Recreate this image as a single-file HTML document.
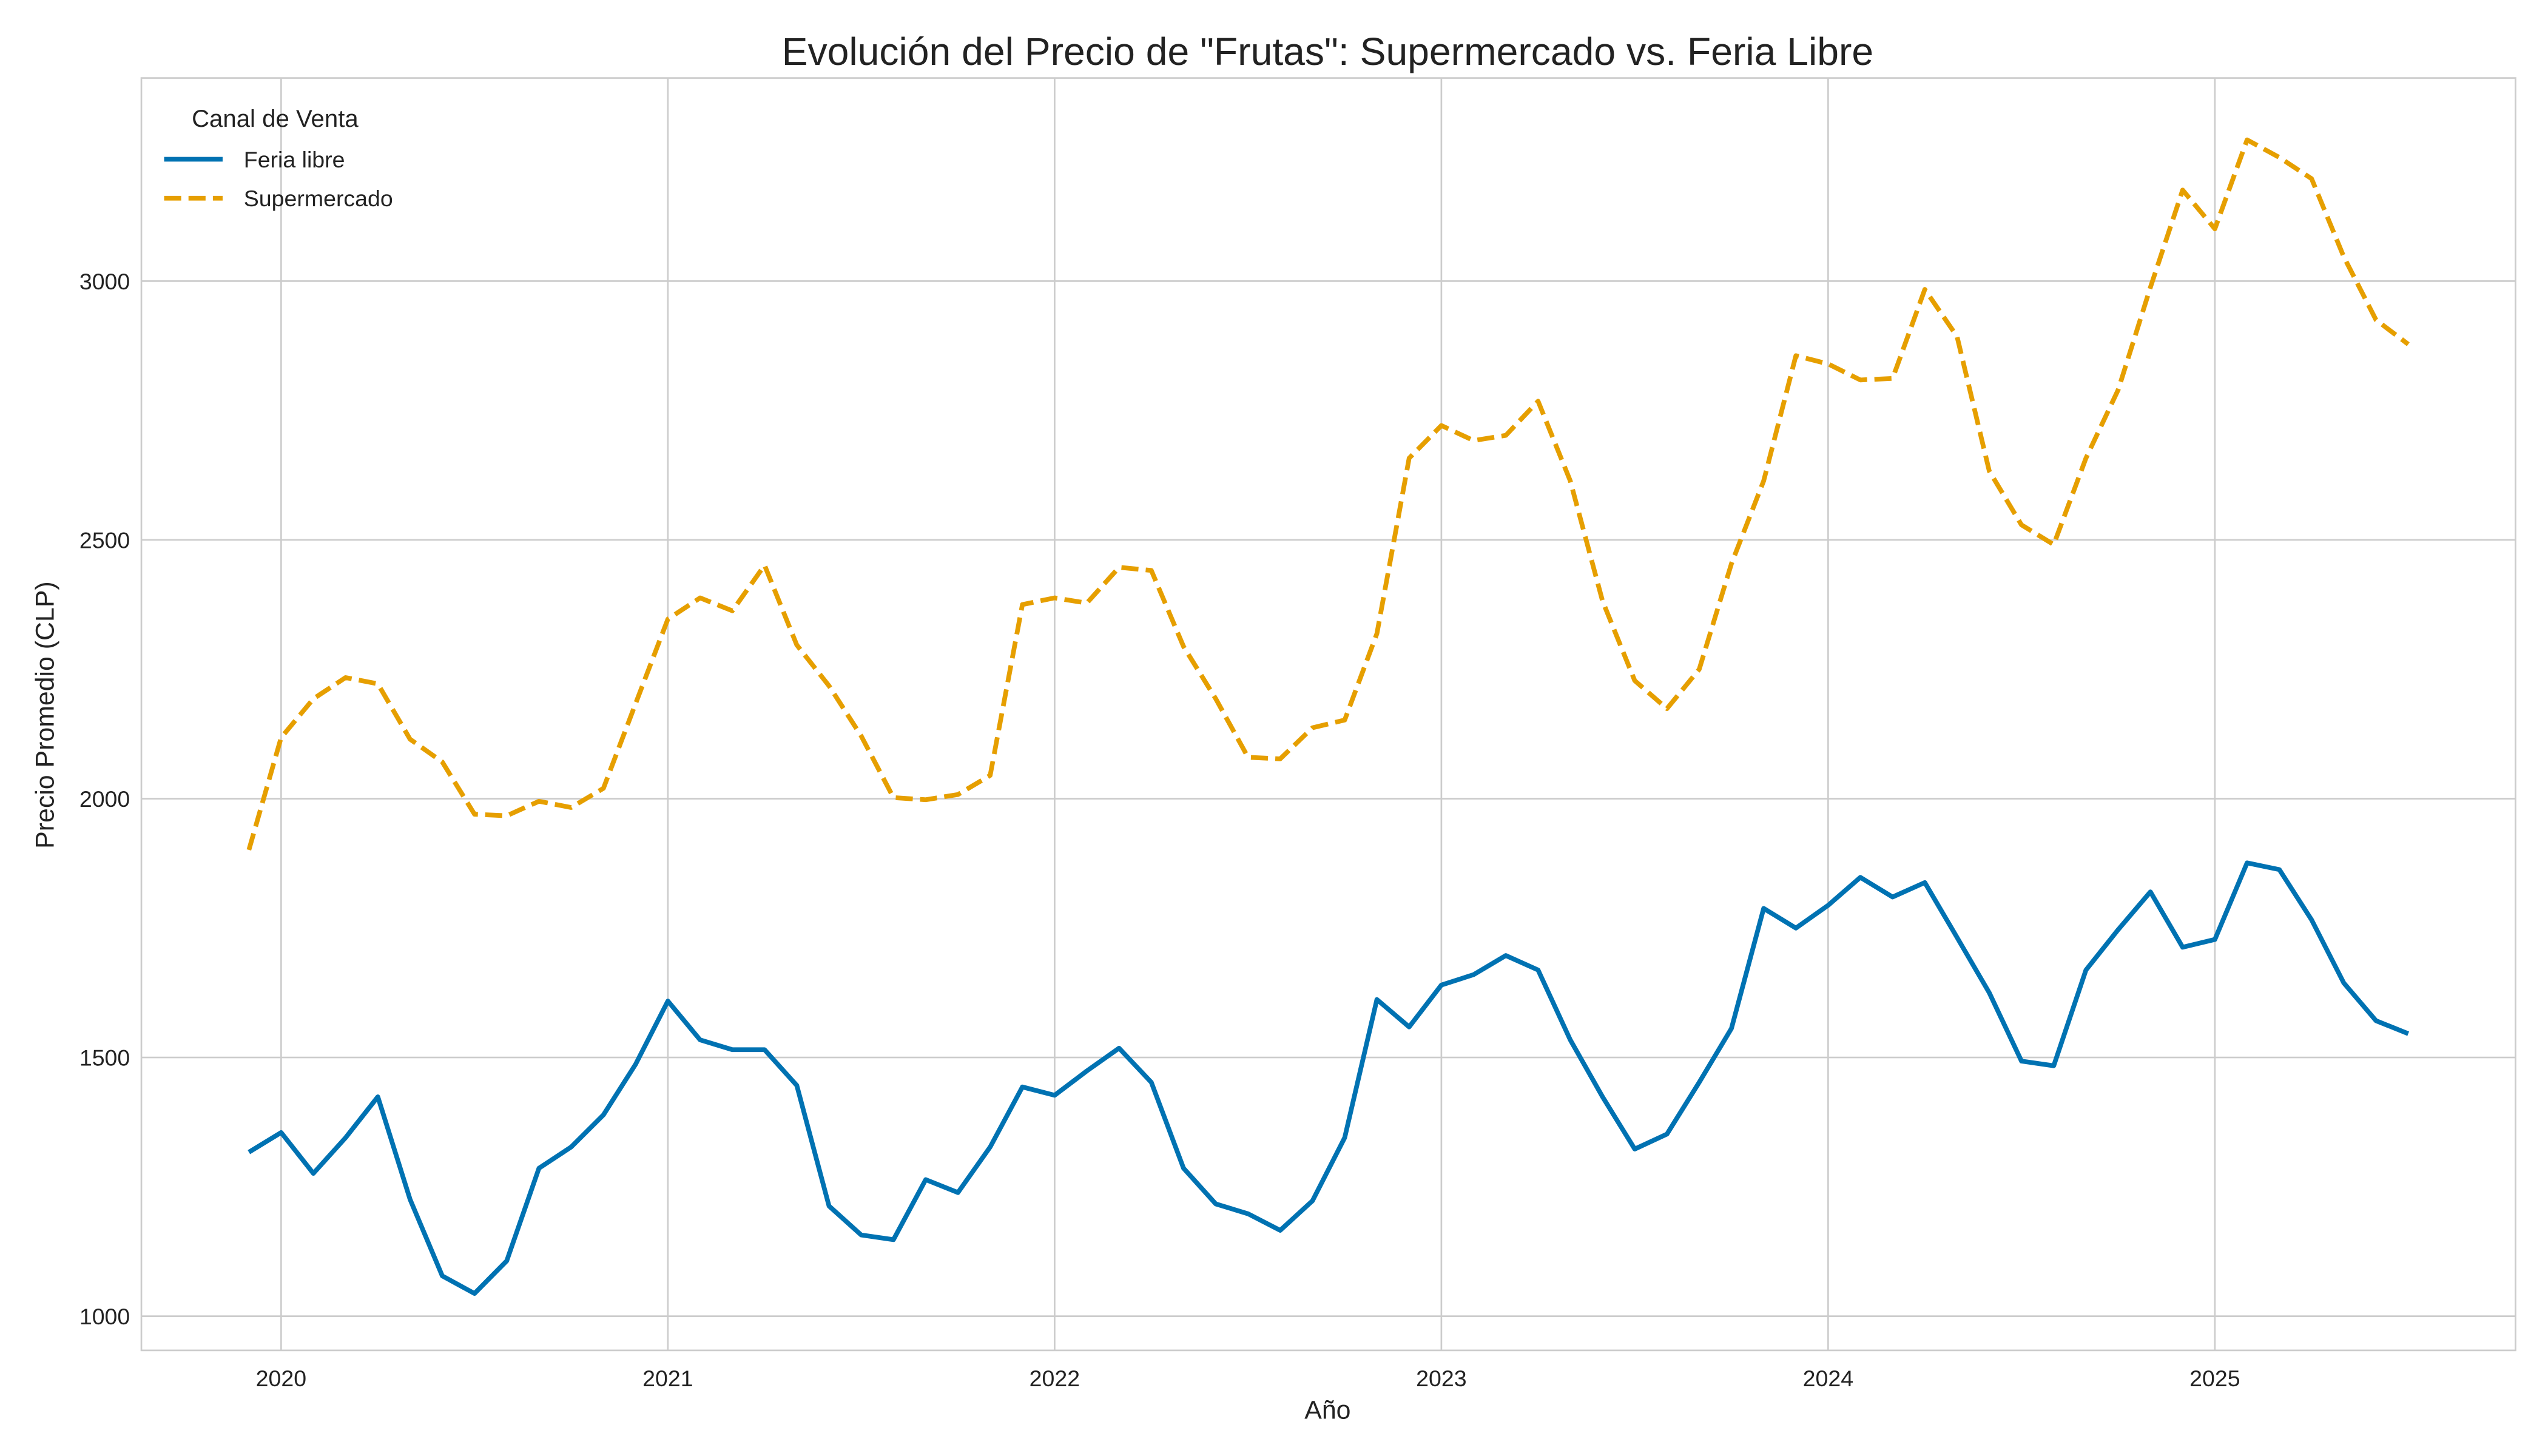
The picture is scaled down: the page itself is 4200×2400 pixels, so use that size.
<!DOCTYPE html>
<html><head><meta charset="utf-8"><style>
html,body{margin:0;padding:0;background:#fff}
svg{display:block;font-family:"Liberation Sans","DejaVu Sans",sans-serif}
</style></head><body>
<svg id="chart" width="4200" height="2400" viewBox="0 0 1568 896" xmlns="http://www.w3.org/2000/svg">
<rect width="1568" height="896" fill="#fff"/>
<g id="grid"></g>
<rect x="87" y="48" width="1461" height="783" fill="none" stroke="#cccccc" stroke-width="1"/>
<g id="series"></g>
<g id="ticks"></g>
<text x="817" y="40" text-anchor="middle" font-size="24" fill="#222">Evolución del Precio de "Frutas": Supermercado vs. Feria Libre</text>
<text x="817" y="873" text-anchor="middle" font-size="16" fill="#222">Año</text>
<text transform="translate(33,440) rotate(-90)" text-anchor="middle" font-size="16" fill="#222">Precio Promedio (CLP)</text>
<g>
<text x="118" y="78" font-size="15" fill="#222">Canal de Venta</text>
<line x1="101" y1="98" x2="137" y2="98" stroke="#0072B2" stroke-width="2.9"/>
<text x="150" y="103" font-size="14" fill="#222">Feria libre</text>
<line x1="101" y1="122" x2="137" y2="122" stroke="#E69F00" stroke-width="2.9" stroke-dasharray="10.5,4.5"/>
<text x="150" y="127" font-size="14" fill="#222">Supermercado</text>
</g>
</svg>
<script>
const yearTicks = [2020, 2021, 2022, 2023, 2024, 2025];
const yTicks = [1000, 1500, 2000, 2500, 3000];
const feriaLibre = [1317,1355,1276,1345,1424,1226,1078,1044,1107,1286,1327,1389,1487,1609,1534,1515,1515,1446,1213,1157,1148,1264,1239,1327,1443,1427,1474,1518,1452,1286,1217,1198,1166,1223,1345,1612,1559,1640,1660,1697,1669,1534,1424,1323,1352,1452,1556,1788,1750,1794,1848,1810,1838,1732,1625,1493,1484,1669,1747,1820,1713,1728,1876,1863,1766,1644,1571,1546];
const supermercado = [1901,2118,2193,2234,2222,2115,2071,1970,1967,1995,1983,2020,2184,2347,2388,2363,2451,2297,2218,2121,2002,1998,2008,2045,2375,2388,2378,2447,2441,2294,2193,2080,2077,2137,2152,2319,2658,2721,2692,2702,2768,2614,2382,2228,2174,2250,2454,2614,2856,2840,2809,2812,2984,2893,2633,2529,2491,2658,2790,2988,3176,3101,3273,3239,3198,3047,2925,2878];

const NS = "http://www.w3.org/2000/svg";
function xScale(t){ return 173 + (t - 2020) * 238; }
function yScale(v){ return 810 - (v - 1000) * (637 / 2000); }
function timeOf(i){ return 2020 + (i - 1) / 12; }
function mk(tag, attrs){ const e = document.createElementNS(NS, tag); for (const k in attrs) e.setAttribute(k, attrs[k]); return e; }

const grid = document.getElementById('grid'), ticks = document.getElementById('ticks'), series = document.getElementById('series');
yearTicks.forEach(y => {
  const x = xScale(y);
  const l = mk('line', {x1:x, x2:x, y1:48, y2:831, stroke:'#cccccc', 'stroke-width':1});
  
  
  grid.appendChild(l);
  const t = mk('text', {x:x, y:853, 'text-anchor':'middle', 'font-size':14, fill:'#222'});
  
  
  t.textContent = y; ticks.appendChild(t);
});
yTicks.forEach(v => {
  const y = yScale(v);
  const l = mk('line', {x1:87, x2:1548, y1:y, y2:y, stroke:'#cccccc', 'stroke-width':1});
  
  
  grid.appendChild(l);
  const t = mk('text', {x:80, y:y+5, 'text-anchor':'end', 'font-size':14, fill:'#222'});
  
  
  t.textContent = v; ticks.appendChild(t);
});
function path(vals){ return vals.map((v,i)=>(i?'L':'M')+xScale(timeOf(i)).toFixed(2)+','+yScale(v).toFixed(2)).join(' '); }
const p1 = mk('path', {d:path(supermercado), fill:'none', stroke:'#E69F00', 'stroke-width':2.9, 'stroke-dasharray':'10.5,4.5', 'stroke-linejoin':'round'});


series.appendChild(p1);
const p2 = mk('path', {d:path(feriaLibre), fill:'none', stroke:'#0072B2', 'stroke-width':2.9, 'stroke-linejoin':'round'});


series.appendChild(p2);
</script>
</body></html>
